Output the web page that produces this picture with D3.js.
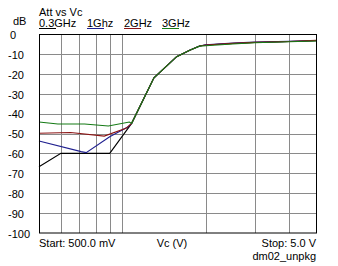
<!DOCTYPE html>
<html>
<head>
<meta charset="utf-8">
<script src="https://cdn.jsdelivr.net/npm/d3@7"></script>
<style>
  html, body { margin: 0; padding: 0; background: #fff; }
  svg { display: block; font-family: "Liberation Sans", Arial, sans-serif; }
</style>
</head>
<body>
<svg id="chart"></svg>
<script>
// series: [Vc (V), Att (dB)]
const att03 = [[0.5, -66.7], [0.6, -60], [0.9, -60], [1.08, -44.9], [1.3, -22], [1.57, -11.4], [1.75, -8.2], [1.9, -6.0], [2.0, -5.5], [2.5, -4.8], [3.0, -4.3], [4.0, -3.8], [5.0, -3.4]];
const att1 = [[0.5, -53.8], [0.71, -59.1], [0.74, -59.6], [0.9, -51.6], [1.05, -46.6], [1.08, -44.9], [1.3, -22], [1.57, -11.4], [1.75, -8.2], [1.9, -6.0], [2.0, -5.4], [2.5, -4.5], [3.0, -4.1], [4.0, -3.7], [5.0, -3.3]];
const att2 = [[0.5, -49.9], [0.65, -49.5], [0.86, -51.3], [1.03, -47.4], [1.08, -44.9], [1.3, -22], [1.57, -11.4], [1.75, -8.2], [1.9, -6.0], [2.0, -5.5], [2.5, -4.7], [3.0, -4.2], [4.0, -3.8], [5.0, -3.2]];
const att3 = [[0.5, -44.2], [0.585, -45.2], [0.73, -45.2], [0.89, -46.2], [1.06, -44.2], [1.08, -44.9], [1.3, -22], [1.57, -11.4], [1.75, -8.2], [1.9, -6.1], [2.0, -5.9], [2.5, -5.0], [3.0, -4.4], [4.0, -3.9], [5.0, -3.5]];

const seriesNames = ['0.3GHz', '1Ghz', '2GHz', '3GHz'];
const seriesColors = ['#000000', '#1f1f8f', '#8b1414', '#157a15'];
const vcGrid = [0.6, 0.7, 0.8, 0.9, 1, 2, 3, 4];
const dbTicks = [0, -10, -20, -30, -40, -50, -60, -70, -80, -90, -100];

class AttChart {

    constructor(_config, _data) {
        this.config = {
            parentElement: _config.parentElement,
            containerWidth: 338,
            containerHeight: 266,
            margin: { top: 34, right: 22, bottom: 33, left: 39 }
        };
        this.data = _data;
        this.initVis();
    }

    initVis() {
        let vis = this;

        vis.config.width = vis.config.containerWidth - vis.config.margin.left - vis.config.margin.right;
        vis.config.height = vis.config.containerHeight - vis.config.margin.top - vis.config.margin.bottom;

        vis.svg = d3.select(vis.config.parentElement)
            .attr('width', vis.config.containerWidth)
            .attr('height', vis.config.containerHeight);

        vis.chartArea = vis.svg.append('g')
            .attr('transform', `translate(${vis.config.margin.left},${vis.config.margin.top})`);

        vis.xScale = d3.scaleLog().domain([0.5, 5]).range([0, vis.config.width]);
        vis.yScale = d3.scaleLinear().domain([-100, 0]).range([vis.config.height, 0]);

        vis.renderVis();
    }

    renderVis() {
        let vis = this;
        const w = vis.config.width, h = vis.config.height;

        // grid
        vis.chartArea.selectAll('.vgrid')
            .data(vcGrid)
            .join('line')
                .attr('class', 'vgrid')
                .attr('x1', d => Math.round(vis.xScale(d)) + 0.5)
                .attr('x2', d => Math.round(vis.xScale(d)) + 0.5)
                .attr('y1', 0)
                .attr('y2', h)
                .attr('stroke', '#8a8a8a')
                .attr('stroke-width', 1);

        vis.chartArea.selectAll('.hgrid')
            .data(dbTicks.slice(1, -1))
            .join('line')
                .attr('class', 'hgrid')
                .attr('x1', 0)
                .attr('x2', w)
                .attr('y1', d => Math.round(vis.yScale(d)) + 0.5)
                .attr('y2', d => Math.round(vis.yScale(d)) + 0.5)
                .attr('stroke', '#8a8a8a')
                .attr('stroke-width', 1);

        // curves
        const line = d3.line()
            .x(d => vis.xScale(d[0]))
            .y(d => vis.yScale(d[1]));

        vis.chartArea.selectAll('.curve')
            .data(vis.data)
            .join('path')
                .attr('class', 'curve')
                .attr('d', d => line(d))
                .attr('fill', 'none')
                .attr('stroke', (d, i) => seriesColors[i])
                .attr('stroke-width', 1.1);

        // frame
        vis.chartArea.append('rect')
            .attr('x', 0.5)
            .attr('y', 0.5)
            .attr('width', w)
            .attr('height', h - 0.5)
            .attr('fill', 'none')
            .attr('stroke', '#000')
            .attr('stroke-width', 1);

        // y tick labels
        vis.svg.selectAll('.ylab')
            .data(dbTicks)
            .join('text')
                .attr('class', 'ylab')
                .attr('x', d => d === 0 ? 10 : 8)
                .attr('y', d => vis.config.margin.top + vis.yScale(d) + 1)
                .attr('dy', '0.35em')
                .attr('font-size', '11px')
                .attr('fill', '#000')
                .text(d => d);

        vis.svg.append('text')
            .attr('x', 13)
            .attr('y', 25)
            .attr('font-size', '11px')
            .text('dB');

        vis.svg.append('text')
            .attr('x', 39)
            .attr('y', 16)
            .attr('font-size', '11px')
            .text('Att vs Vc');

        // legend
        const legendX = [39, 87, 124, 162];
        const legend = vis.svg.selectAll('.legend')
            .data(seriesNames)
            .join('g')
                .attr('class', 'legend')
                .attr('transform', (d, i) => `translate(${legendX[i]},27)`);

        legend.append('text')
            .attr('font-size', '11px')
            .text(d => d);

        legend.append('line')
            .attr('x1', 0)
            .attr('x2', 17)
            .attr('y1', 1.5)
            .attr('y2', 1.5)
            .attr('stroke', (d, i) => seriesColors[i])
            .attr('stroke-width', 1);

        // bottom texts
        const bottomY = vis.config.margin.top + h + 14;
        vis.svg.append('text')
            .attr('x', 39)
            .attr('y', bottomY)
            .attr('font-size', '11px')
            .text('Start: 500.0 mV');

        vis.svg.append('text')
            .attr('x', 172)
            .attr('y', bottomY)
            .attr('text-anchor', 'middle')
            .attr('font-size', '11px')
            .text('Vc (V)');

        vis.svg.append('text')
            .attr('x', 316)
            .attr('y', bottomY)
            .attr('text-anchor', 'end')
            .attr('font-size', '11px')
            .text('Stop: 5.0 V');

        vis.svg.append('text')
            .attr('x', 316)
            .attr('y', bottomY + 13)
            .attr('text-anchor', 'end')
            .attr('font-size', '11px')
            .text('dm02_unpkg');
    }
}

new AttChart({ parentElement: '#chart' }, [att03, att1, att2, att3]);
</script>
</body>
</html>
